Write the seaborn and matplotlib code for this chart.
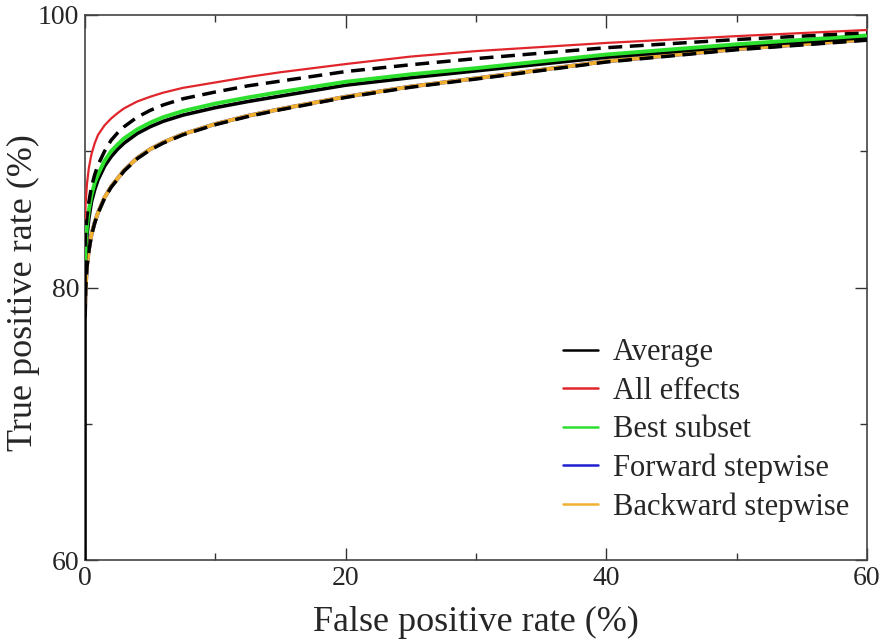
import matplotlib
matplotlib.use("Agg")
import matplotlib.pyplot as plt
import seaborn as sns
import numpy as np
import pandas as pd
from matplotlib.lines import Line2D
from matplotlib.ticker import MultipleLocator

# ---- data ----
fpr = [0, 0.05, 0.15, 0.3, 0.5, 0.75, 1, 1.5, 2, 2.5, 3, 4, 5, 6, 7.5,
       10, 12.5, 15, 20, 25, 30, 40, 50, 60]
fpr_avg = [0] + fpr  # the average curve also has the vertical segment from 60 %

tpr_all_effects = [85.0, 86.2, 87.6, 88.8, 89.8, 90.6, 91.2, 91.9, 92.4, 92.8, 93.15, 93.65, 94.0,
                   94.3, 94.65, 95.05, 95.45, 95.8, 96.4, 96.95, 97.35, 97.95, 98.45, 98.9]
tpr_upper_band  = [83.0, 84.0, 85.2, 86.3, 87.4, 88.3, 89.0, 90.0, 90.8, 91.35, 91.8, 92.5, 93.0,
                   93.4, 93.85, 94.35, 94.8, 95.15, 95.85, 96.35, 96.8, 97.6, 98.2, 98.7]
tpr_best_subset = [82.0, 83.2, 84.5, 85.7, 86.8, 87.7, 88.3, 89.3, 90.0, 90.5, 90.95, 91.6, 92.1,
                   92.5, 92.95, 93.5, 93.95, 94.35, 95.1, 95.65, 96.1, 97.1, 97.85, 98.5]
tpr_average     = [60.0, 81.0, 82.4, 83.8, 85.1, 86.3, 87.2, 87.9, 88.9, 89.6, 90.15, 90.6, 91.3, 91.8,
                   92.2, 92.65, 93.2, 93.65, 94.05, 94.85, 95.4, 95.9, 96.9, 97.7, 98.35]
tpr_forward     = [78.0, 80.0, 81.6, 82.8, 83.9, 84.8, 85.5, 86.6, 87.4, 88.0, 88.6, 89.5, 90.15,
                   90.65, 91.25, 92.0, 92.6, 93.1, 94.0, 94.75, 95.35, 96.6, 97.5, 98.2]
tpr_backward    = [78.0, 80.0, 81.6, 82.8, 83.9, 84.8, 85.5, 86.6, 87.4, 88.0, 88.6, 89.5, 90.15,
                   90.65, 91.25, 92.0, 92.6, 93.1, 94.0, 94.75, 95.35, 96.6, 97.5, 98.2]
tpr_lower_band  = [77.8, 79.9, 81.5, 82.7, 83.85, 84.75, 85.45, 86.55, 87.35, 87.95, 88.55, 89.45, 90.1,
                   90.6, 91.2, 91.95, 92.55, 93.05, 93.95, 94.7, 95.3, 96.55, 97.45, 98.15]

legend_labels = ["Average", "All effects", "Best subset", "Forward stepwise", "Backward stepwise"]
legend_colors = ["#000000", "#e0262b", "#2ee02e", "#1f1fd0", "#f0b030"]

x_ticks = [0, 20, 40, 60]
y_ticks = [60, 80, 100]

# ---- style ----
sns.set_style("ticks")
plt.rcParams["font.family"] = ["Liberation Serif", "DejaVu Serif"]

fig = plt.figure(figsize=(8.82, 6.43), dpi=100)
ax = fig.add_axes([85/882, 1 - 560/643, (867-85)/882, (560-15)/643])

def draw(x, y, color, lw, dashes=None, z=2):
    df = pd.DataFrame({"fpr": x, "tpr": y})
    sns.lineplot(data=df, x="fpr", y="tpr", ax=ax, color=color, lw=lw,
                 sort=False, estimator=None, zorder=z)
    line = ax.lines[-1]
    if dashes is not None:
        line.set_dashes(dashes)
    line.set_solid_capstyle("butt")
    line.set_dash_capstyle("butt")
    line.set_solid_joinstyle("round")

draw(fpr, tpr_forward, legend_colors[3], 2.8, z=2)
draw(fpr, tpr_backward, legend_colors[4], 2.8, z=3)
draw(fpr, tpr_lower_band, "#000000", 2.5, dashes=(4, 2.2), z=4)
draw(fpr_avg, tpr_average, legend_colors[0], 2.6, z=5)
draw(fpr, tpr_best_subset, legend_colors[2], 2.8, z=6)
draw(fpr, tpr_upper_band, "#000000", 2.5, dashes=(4, 2.2), z=7)
draw(fpr, tpr_all_effects, legend_colors[1], 1.6, z=8)

ax.set_xlim(0, 60)
ax.set_ylim(60, 100)
ax.set_xticks(x_ticks)
ax.set_yticks(y_ticks)
ax.xaxis.set_minor_locator(MultipleLocator(10))
ax.yaxis.set_minor_locator(MultipleLocator(10))
ax.set_xticklabels([str(t) for t in x_ticks])
ax.set_yticklabels([str(t) for t in y_ticks])
ax.tick_params(which="both", direction="in", top=True, right=True,
               color="#333333", width=1.0, labelsize=20, pad=4)
ax.tick_params(which="major", length=9)
ax.tick_params(which="minor", length=5)
for s in ax.spines.values():
    s.set_color("#444444")
    s.set_linewidth(1.2)

ax.set_xlabel("False positive rate (%)", fontsize=26, labelpad=11)
ax.set_ylabel("True positive rate (%)", fontsize=26)
ax.yaxis.set_label_coords(-0.058, 0.49)

handles = [Line2D([], [], color=c, lw=1.8) for c in legend_colors]
ax.legend(handles, legend_labels, loc="lower left", bbox_to_anchor=(0.596, 0.047),
          frameon=False, fontsize=22, handlelength=1.12, handletextpad=0.5,
          labelspacing=0.31, borderaxespad=0)

fig.savefig("out.png", dpi=100)
